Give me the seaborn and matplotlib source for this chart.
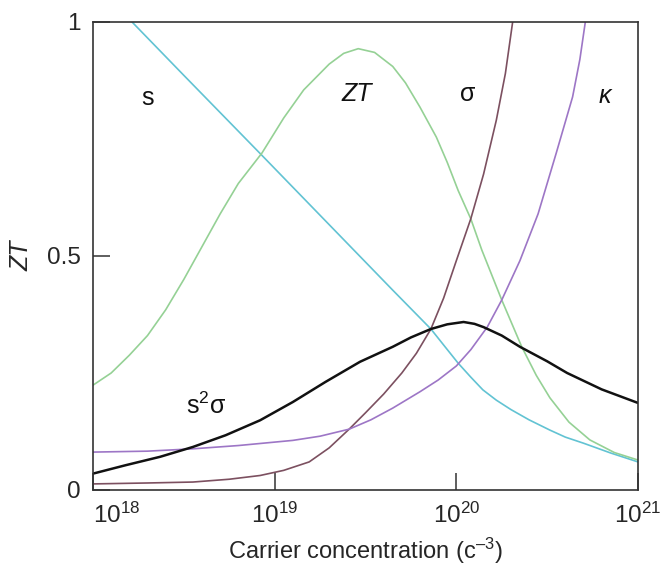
import numpy as np
import pandas as pd
import matplotlib
matplotlib.use("Agg")
import matplotlib.pyplot as plt
from matplotlib.ticker import NullLocator
import seaborn as sns

# log10 of carrier concentration (cm^-3) and normalised magnitude of each quantity
s_logn = [18.215, 18.5, 18.93, 19.2, 19.44, 19.65, 19.86, 19.94, 20.01, 20.08, 20.146,
          20.22, 20.3, 20.4, 20.515, 20.6, 20.7, 20.85, 21.0]
s_val = [1.0, 0.886, 0.715, 0.607, 0.511, 0.427, 0.344, 0.305, 0.271, 0.241, 0.214,
         0.192, 0.172, 0.15, 0.128, 0.113, 0.10, 0.079, 0.06]

zt_logn = [18.0, 18.1, 18.2, 18.3, 18.4, 18.5, 18.6, 18.7, 18.8, 18.93, 19.05, 19.16,
           19.3, 19.38, 19.46, 19.55, 19.65, 19.72, 19.8, 19.89, 19.95, 20.01, 20.08,
           20.14, 20.25, 20.36, 20.44, 20.515, 20.62, 20.735, 20.87, 21.0]
zt_val = [0.224, 0.25, 0.288, 0.33, 0.385, 0.45, 0.52, 0.59, 0.655, 0.72, 0.795, 0.855,
          0.91, 0.933, 0.943, 0.935, 0.905, 0.87, 0.818, 0.754, 0.70, 0.64, 0.579,
          0.513, 0.406, 0.306, 0.245, 0.197, 0.145, 0.107, 0.08, 0.064]

pf_logn = [18.0, 18.18, 18.37, 18.55, 18.73, 18.92, 19.1, 19.28, 19.47, 19.56, 19.65,
           19.75, 19.86, 19.95, 20.04, 20.1, 20.15, 20.25, 20.35, 20.5, 20.61, 20.8, 21.0]
pf_val = [0.035, 0.053, 0.071, 0.092, 0.117, 0.149, 0.188, 0.231, 0.274, 0.29, 0.306,
          0.326, 0.344, 0.354, 0.359, 0.355, 0.348, 0.33, 0.306, 0.275, 0.25, 0.215, 0.186]

sig_logn = [18.0, 18.3, 18.55, 18.75, 18.92, 19.05, 19.19, 19.3, 19.41, 19.5, 19.6,
            19.7, 19.78, 19.86, 19.93, 20.0, 20.08, 20.15, 20.22, 20.27, 20.31]
sig_val = [0.013, 0.015, 0.017, 0.023, 0.031, 0.042, 0.06, 0.09, 0.13, 0.165, 0.205,
           0.25, 0.292, 0.344, 0.41, 0.49, 0.58, 0.675, 0.79, 0.89, 1.0]

kap_logn = [18.0, 18.3, 18.55, 18.8, 19.1, 19.25, 19.41, 19.53, 19.65, 19.8, 19.9,
            20.0, 20.08, 20.17, 20.25, 20.35, 20.45, 20.55, 20.64, 20.68, 20.71]
kap_val = [0.081, 0.083, 0.088, 0.095, 0.106, 0.115, 0.13, 0.15, 0.175, 0.21, 0.235,
           0.265, 0.30, 0.348, 0.406, 0.49, 0.59, 0.72, 0.84, 0.92, 1.0]

x_ticks = [1e18, 1e19, 1e20, 1e21]
x_ticklabels = ["$10^{18}$", "$10^{19}$", "$10^{20}$", "$10^{21}$"]
y_ticks = [0, 0.5, 1]
y_ticklabels = ["0", "0.5", "1"]

series = [
    ("s", s_logn, s_val, "#62c3d3", 1.2),
    ("ZT", zt_logn, zt_val, "#95d195", 1.2),
    ("sigma", sig_logn, sig_val, "#7c5060", 1.2),
    ("kappa", kap_logn, kap_val, "#9d76c6", 1.2),
    ("s2sigma", pf_logn, pf_val, "#111111", 1.8),
]

sns.set_style("ticks")
plt.rcParams["font.family"] = ["Liberation Sans", "DejaVu Sans"]
plt.rcParams["mathtext.fontset"] = "custom"
plt.rcParams["mathtext.rm"] = "Liberation Sans"
plt.rcParams["mathtext.it"] = "Liberation Sans:italic"
plt.rcParams["mathtext.sf"] = "Liberation Sans"

fig = plt.figure(figsize=(6.62, 5.66), dpi=100)
ax = fig.add_axes([93 / 662, 1 - 490 / 566, (638 - 93) / 662, (490 - 22) / 566])

for name, logn, val, color, lw in series:
    df = pd.DataFrame({"n": 10 ** np.asarray(logn), "v": val})
    sns.lineplot(data=df, x="n", y="v", color=color, linewidth=lw,
                 estimator=None, sort=False, ax=ax)

ax.set_xscale("log")
ax.set_xlim(1e18, 1e21)
ax.set_ylim(0, 1)
ax.xaxis.set_minor_locator(NullLocator())
ax.set_xticks(x_ticks)
ax.set_xticklabels(x_ticklabels)
ax.set_yticks(y_ticks)
ax.set_yticklabels(y_ticklabels)
ax.get_xticklabels()[0].set_horizontalalignment("left")

for sp in ax.spines.values():
    sp.set_visible(True)
    sp.set_linewidth(1.2)
    sp.set_color("#333333")

ax.tick_params(axis="both", direction="in", length=12, width=1.1,
               color="#333333", labelsize=17.5, pad=9)

ax.set_xlabel("Carrier concentration (c$^{\u2013 3}$)", fontsize=17)
ax.xaxis.set_label_coords(0.5, -0.097)
ax.set_ylabel("ZT", fontsize=18, style="italic")
ax.yaxis.set_label_coords(-0.11, 0.5)

txt = dict(ha="center", va="center", fontsize=18, color="#111111")
ax.text(10 ** 18.30, 0.838, "s", **txt)
ax.text(10 ** 19.45, 0.846, "ZT", style="italic", **txt)
ax.text(10 ** 20.06, 0.846, "\u03c3", **txt)
ax.text(10 ** 20.82, 0.841, "$\\kappa$", **txt)
ax.text(10 ** 18.62, 0.18, "s$^2$\u03c3", **txt)

fig.savefig("out.png", dpi=100)
